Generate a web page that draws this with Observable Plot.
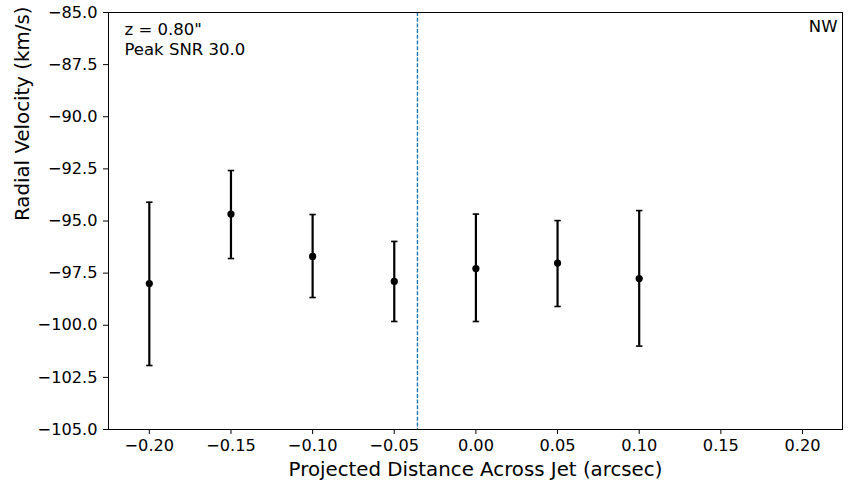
<!DOCTYPE html>
<html>
<head>
<meta charset="utf-8">
<script src="https://cdn.jsdelivr.net/npm/d3@7"></script>
<script src="https://cdn.jsdelivr.net/npm/@observablehq/plot@0.6"></script>
<style>
  html, body { margin: 0; padding: 0; background: #fff; }
  #chart svg { display: block; font-family: "DejaVu Sans", sans-serif; }
</style>
</head>
<body>
<div id="chart"></div>
<script>
// Data
const distance = [-0.20, -0.15, -0.10, -0.05, 0.00, 0.05, 0.10];
const velocity = [-98.0, -94.67, -96.70, -97.90, -97.28, -97.02, -97.76];
const errLow  = [-101.93, -96.80, -98.67, -99.82, -99.82, -99.10, -101.0];
const errHigh = [-94.10, -92.58, -94.69, -95.98, -94.67, -94.98, -94.50];
const jetCenter = [-0.0358];
const xTicks = [-0.20, -0.15, -0.10, -0.05, 0.00, 0.05, 0.10, 0.15, 0.20];
const yTicks = [-85.0, -87.5, -90.0, -92.5, -95.0, -97.5, -100.0, -102.5, -105.0];
const annotationsLeft = ["z = 0.80\"", "Peak SNR 30.0"];
const annotationRight = ["NW"];

const rows = distance.map((x, i) => ({x, y: velocity[i], lo: errLow[i], hi: errHigh[i]}));
const caps = rows.flatMap(d => [{x: d.x, y: d.lo}, {x: d.x, y: d.hi}]);

const capSymbol = {
  draw(ctx, size) {
    const w = Math.sqrt(size / Math.PI);
    ctx.moveTo(-w, 0);
    ctx.lineTo(w, 0);
  }
};

const chart = Plot.plot({
  width: 863,
  height: 482,
  marginLeft: 108,
  marginRight: 21,
  marginTop: 12,
  marginBottom: 53,
  style: {fontFamily: "DejaVu Sans, sans-serif", background: "#fff", overflow: "visible"},
  x: {domain: [-0.225, 0.2245]},
  y: {domain: [-105, -85]},
  marks: [
    Plot.axisX({
      ticks: xTicks, tickFormat: d3.format(".2f"), tickSize: 5, tickPadding: 5,
      fontSize: 16.2, label: null, stroke: "black", color: "black"
    }),
    Plot.axisY({
      ticks: yTicks, tickFormat: d3.format(".1f"), tickSize: 5, tickPadding: 6,
      fontSize: 16.2, label: null, stroke: "black", color: "black"
    }),
    Plot.ruleX(jetCenter, {stroke: "#1f77b4", strokeWidth: 1.4, strokeDasharray: "4,1.7"}),
    Plot.ruleX(rows, {x: "x", y1: "lo", y2: "hi", stroke: "black", strokeWidth: 2.2}),
    Plot.dot(caps, {x: "x", y: "y", r: 3.2, symbol: capSymbol, stroke: "black", strokeWidth: 1.6, fill: "none"}),
    Plot.dot(rows, {x: "x", y: "y", r: 3.6, fill: "black", stroke: "none"}),
    Plot.frame({stroke: "black", strokeWidth: 1}),
    Plot.text([annotationsLeft.join("\n")], {
      frameAnchor: "top-left", dx: 16, dy: 8, fontSize: 16.5, fill: "black", lineHeight: 1.24, textAnchor: "start"
    }),
    Plot.text(annotationRight, {
      frameAnchor: "top-right", dx: -5, dy: 8, fontSize: 16.5, fill: "black", textAnchor: "end"
    }),
    Plot.text(["Projected Distance Across Jet (arcsec)"], {
      frameAnchor: "bottom", lineAnchor: "middle", dy: 40, fontSize: 19.8, fill: "black"
    }),
    Plot.text(["Radial Velocity (km/s)"], {
      frameAnchor: "left", dx: -86, rotate: -90, fontSize: 19.8, fill: "black"
    })
  ]
});
document.getElementById("chart").appendChild(chart);
</script>
</body>
</html>
